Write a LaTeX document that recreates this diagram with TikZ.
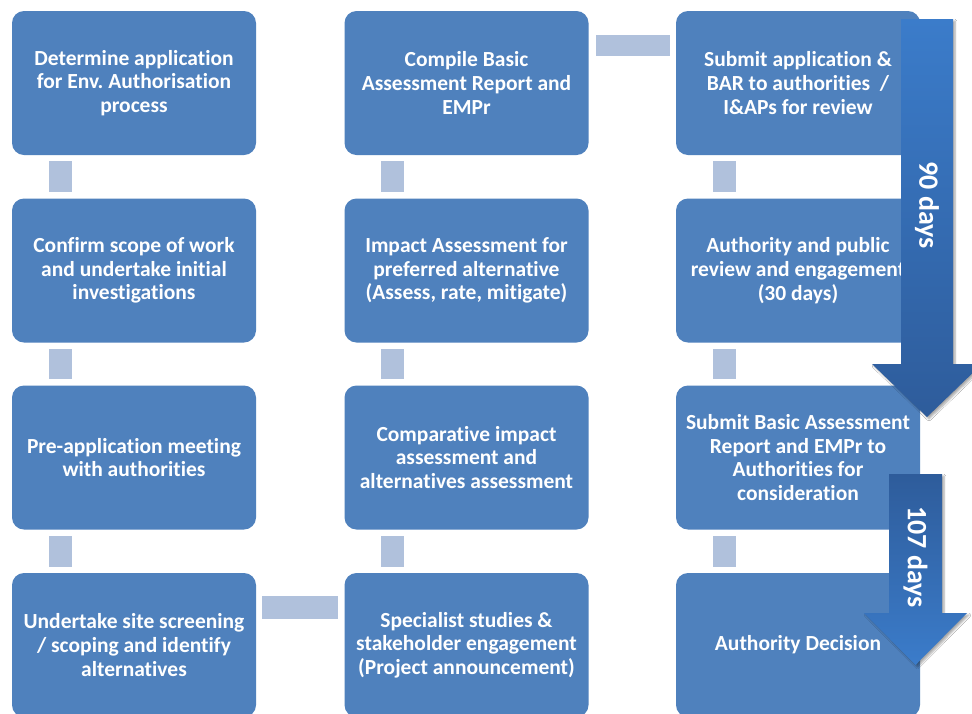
\documentclass[tikz,border=0pt]{standalone}
\usepackage{fontspec}
\setmainfont{Carlito}[Ligatures={NoCommon}]
\frenchspacing
\usetikzlibrary{shadows.blur}
\definecolor{boxblue}{HTML}{4F81BD}
\definecolor{connfill}{HTML}{B0C1DC}
\definecolor{arrlight}{HTML}{3B7CCA}
\definecolor{arrdark}{HTML}{2E5C9B}
\tikzset{
  stepbox/.style={rectangle, rounded corners=12pt, fill=boxblue, minimum width=244pt,
    minimum height=144pt, inner sep=0pt, align=center, text=white,
    font=\bfseries\fontsize{21.5}{23.7}\selectfont},
  conn/.style={fill=connfill},
  bigarrow/.style={blur shadow={shadow xshift=2pt, shadow yshift=-2pt, shadow blur steps=6, shadow opacity=35}},
  daylabel/.style={text=white, rotate=-90, inner sep=0pt, font=\bfseries\fontsize{28}{30}\selectfont}
}
\begin{document}
\begin{tikzpicture}[x=1pt,y=-1pt]
\useasboundingbox (0,0) rectangle (972,713);
\fill[white] (0,0) rectangle (972,713);
% column 1
\node[stepbox] (c1r1) at (134,83) {Determine application\\for Env. Authorisation\\process};
\node[stepbox] (c1r2) at (134,270.5) {Confirm scope of work\\and undertake initial\\investigations};
\node[stepbox] (c1r3) at (134,457.5) {Pre-application meeting\\with authorities};
\node[stepbox] (c1r4) at (134,645) {Undertake site screening\\/ scoping and identify\\alternatives};
% column 2
\node[stepbox] (c2r1) at (466.5,83) {Compile Basic\\Assessment Report and\\EMPr};
\node[stepbox] (c2r2) at (466.5,270.5) {Impact Assessment for\\preferred alternative\\(Assess, rate, mitigate)};
\node[stepbox] (c2r3) at (466.5,457.5) {Comparative impact\\assessment and\\alternatives assessment};
\node[stepbox] (c2r4) at (466.5,645) {Specialist studies \&\\stakeholder engagement\\(Project announcement)};
% column 3
\node[stepbox] (c3r1) at (798,83) {Submit application \&\\BAR to authorities\ \ /\\I\&APs for review};
\node[stepbox] (c3r2) at (798,270.5) {Authority and public\\review and engagement\\(30 days)};
\node[stepbox] (c3r3) at (798,457.5) {Submit Basic Assessment\\Report and EMPr to\\Authorities for\\consideration};
\node[stepbox] (c3r4) at (798,645) {Authority Decision};
% vertical connectors
\foreach \a/\b in {c1r1/c1r2,c1r2/c1r3,c1r3/c1r4,c2r1/c2r2,c2r2/c2r3,c2r3/c2r4,c3r1/c3r2,c3r2/c3r3,c3r3/c3r4}{
  \fill[conn] ([xshift=37pt,yshift=-6pt]\a.south west) rectangle ([xshift=60pt,yshift=6pt]\b.north west);
}
% horizontal connectors
\fill[conn] ([xshift=6pt,yshift=-23pt]c1r4.north east) rectangle ([xshift=-6pt,yshift=-46pt]c2r4.north west);
\fill[conn] ([xshift=7pt,yshift=-24pt]c2r1.north east) rectangle ([xshift=-6pt,yshift=-45pt]c3r1.north west);
% arrow 90 days
\path[bigarrow, top color=arrlight, bottom color=arrdark, shading angle=0]
  (901,19) -- (953,19) -- (953,364) -- (982,364) -- (927,417) -- (872,364) -- (901,364) -- cycle;
\node[daylabel] (d90) at (927,205) {90 days};
% arrow 107 days
\path[bigarrow, top color=arrdark, bottom color=arrlight]
  (889,474) -- (942,474) -- (942,613) -- (967,613) -- (915.5,665) -- (864,613) -- (889,613) -- cycle;
\node[daylabel] (d107) at (915.5,557) {107 days};
\end{tikzpicture}
\end{document}
